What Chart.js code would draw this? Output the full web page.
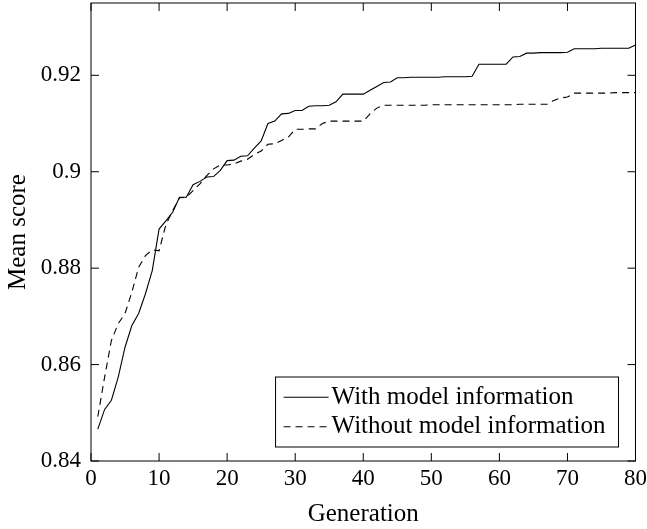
<!DOCTYPE html>
<html>
<head>
<meta charset="utf-8">
<script src="https://cdn.jsdelivr.net/npm/chart.js@4.4.1/dist/chart.umd.min.js"></script>
<style>
  html, body { margin: 0; padding: 0; background: #fff; }
</style>
</head>
<body>
<canvas id="chart" width="647" height="529"></canvas>
<script>
const generations = [
  1, 2, 3, 4, 5, 6, 7, 8, 9, 10, 11, 12, 13, 14, 15, 16, 17, 18, 19, 20,
  21, 22, 23, 24, 25, 26, 27, 28, 29, 30, 31, 32, 33, 34, 35, 36, 37, 38, 39, 40,
  41, 42, 43, 44, 45, 46, 47, 48, 49, 50, 51, 52, 53, 54, 55, 56, 57, 58, 59, 60,
  61, 62, 63, 64, 65, 66, 67, 68, 69, 70, 71, 72, 73, 74, 75, 76, 77, 78, 79, 80
]

const withModel = [
  0.8466, 0.8507, 0.8526, 0.8574, 0.8636, 0.8681, 0.8706, 0.8747, 0.8795, 0.8881,
  0.8898, 0.8916, 0.8947, 0.8947, 0.8973, 0.8980, 0.8989, 0.8990, 0.9003, 0.9023,
  0.9024, 0.9032, 0.9033, 0.9049, 0.9064, 0.9100, 0.9105, 0.9120, 0.9121, 0.9127,
  0.9127, 0.9136, 0.9137, 0.9137, 0.9138, 0.9145, 0.9161, 0.9161, 0.9161, 0.9161,
  0.9169, 0.9177, 0.9185, 0.9186, 0.9195, 0.9195, 0.9196, 0.9196, 0.9196, 0.9196,
  0.9196, 0.9197, 0.9197, 0.9197, 0.9197, 0.9198, 0.9223, 0.9223, 0.9223, 0.9223,
  0.9223, 0.9238, 0.9239, 0.9246, 0.9246, 0.9247, 0.9247, 0.9247, 0.9247, 0.9248,
  0.9255, 0.9255, 0.9255, 0.9255, 0.9256, 0.9256, 0.9256, 0.9256, 0.9256, 0.9263
]

const withoutModel = [
  0.8492, 0.8574, 0.8650, 0.8685, 0.8706, 0.8750, 0.8802, 0.8826, 0.8838, 0.8836,
  0.8890, 0.8919, 0.8946, 0.8947, 0.8961, 0.8975, 0.8992, 0.9006, 0.9014, 0.9014,
  0.9016, 0.9022, 0.9026, 0.9036, 0.9043, 0.9057, 0.9058, 0.9065, 0.9072, 0.9088,
  0.9088, 0.9089, 0.9089, 0.9100, 0.9105, 0.9105, 0.9105, 0.9105, 0.9105, 0.9105,
  0.9120, 0.9132, 0.9138, 0.9138, 0.9138, 0.9138, 0.9138, 0.9138, 0.9138, 0.9139,
  0.9139, 0.9139, 0.9139, 0.9139, 0.9139, 0.9139, 0.9139, 0.9139, 0.9139, 0.9139,
  0.9139, 0.9139, 0.9140, 0.9140, 0.9140, 0.9140, 0.9140, 0.9148, 0.9153, 0.9155,
  0.9163, 0.9163, 0.9163, 0.9163, 0.9163, 0.9163, 0.9164, 0.9164, 0.9164, 0.9164
]

const seriesLabels = ['With model information', 'Without model information']
const xTicks = [0, 10, 20, 30, 40, 50, 60, 70, 80]
const yTicks = [0.84, 0.86, 0.88, 0.9, 0.92]
const yTickLabels = ['0.84', '0.86', '0.88', '0.9', '0.92']

const FONT = '"Liberation Serif", "Times New Roman", serif'
Chart.defaults.font.family = FONT
Chart.defaults.font.size = 23
Chart.defaults.color = '#000'

// pgfplots-style frame with inward ticks on all four sides
const framePlugin = {
  id: 'frame',
  afterDatasetsDraw(chart) {
    const { ctx, chartArea: a, scales: { x, y } } = chart
    const len = 8
    ctx.save()
    ctx.strokeStyle = '#000'
    ctx.lineWidth = 1
    ctx.beginPath()
    x.ticks.forEach(t => {
      const px = x.getPixelForValue(t.value)
      ctx.moveTo(px, a.bottom); ctx.lineTo(px, a.bottom - len)
      ctx.moveTo(px, a.top); ctx.lineTo(px, a.top + len)
    })
    y.ticks.forEach(t => {
      const py = y.getPixelForValue(t.value)
      ctx.moveTo(a.left, py); ctx.lineTo(a.left + len, py)
      ctx.moveTo(a.right, py); ctx.lineTo(a.right - len, py)
    })
    ctx.stroke()
    ctx.strokeRect(a.left, a.top, a.right - a.left, a.bottom - a.top)
    ctx.restore()
  }
}

// boxed legend sitting in the lower right corner of the plot
const boxLegend = {
  id: 'boxLegend',
  afterDraw(chart) {
    const { ctx, chartArea: a } = chart
    const sets = chart.data.datasets
    const sample = 45, gap = 3, padL = 8, padR = 13, padY = 5.5, rowH = 29.5
    ctx.save()
    ctx.font = '25px ' + FONT
    const textW = Math.max(...sets.map(d => ctx.measureText(d.label).width))
    const w = padL + sample + gap + textW + padR
    const h = padY * 2 + rowH * sets.length
    const bx = a.right - 17 - w
    const by = a.bottom - 14 - h
    ctx.fillStyle = '#fff'
    ctx.fillRect(bx, by, w, h)
    ctx.strokeStyle = '#000'
    ctx.lineWidth = 1
    ctx.strokeRect(bx, by, w, h)
    sets.forEach((d, i) => {
      const cy = by + padY + rowH * (i + 0.5)
      ctx.beginPath()
      ctx.setLineDash(d.borderDash || [])
      ctx.lineWidth = d.borderWidth
      ctx.moveTo(bx + padL, cy)
      ctx.lineTo(bx + padL + sample, cy)
      ctx.stroke()
      ctx.setLineDash([])
      ctx.fillStyle = '#000'
      ctx.textAlign = 'left'
      ctx.textBaseline = 'middle'
      ctx.fillText(d.label, bx + padL + sample + gap, cy)
    })
    ctx.restore()
  }
}

const toPoints = values => values.map((v, i) => ({ x: generations[i], y: v }))

new Chart(document.getElementById('chart').getContext('2d'), {
  type: 'line',
  data: {
    datasets: [
      {
        label: seriesLabels[0],
        data: toPoints(withModel),
        borderColor: '#000',
        borderWidth: 1.1,
        pointRadius: 0,
        tension: 0,
        fill: false
      },
      {
        label: seriesLabels[1],
        data: toPoints(withoutModel),
        borderColor: '#000',
        borderWidth: 1.1,
        borderDash: [7, 5],
        pointRadius: 0,
        tension: 0,
        fill: false
      }
    ]
  },
  options: {
    responsive: false,
    animation: false,
    layout: { padding: { top: 3, right: 11.5, left: 0, bottom: 0 } },
    plugins: {
      legend: { display: false },
      tooltip: { enabled: false }
    },
    scales: {
      x: {
        type: 'linear',
        min: 0,
        max: 80,
        afterBuildTicks: scale => { scale.ticks = xTicks.map(v => ({ value: v })) },
        afterFit: scale => {
          scale.height = 68
          scale.paddingLeft = 0
          scale.paddingRight = 0
        },
        grid: { display: false, drawTicks: false },
        border: { display: false },
        ticks: { padding: 4, maxRotation: 0, font: { size: 23 } },
        title: {
          display: true,
          text: 'Generation',
          font: { size: 25 },
          padding: { top: 0, bottom: 0 }
        }
      },
      y: {
        type: 'linear',
        min: 0.84,
        max: 0.935,
        afterBuildTicks: scale => { scale.ticks = yTicks.map(v => ({ value: v })) },
        afterFit: scale => {
          scale.width = 91
          scale.paddingTop = 0
          scale.paddingBottom = 0
        },
        grid: { display: false, drawTicks: false },
        border: { display: false },
        ticks: {
          padding: 10,
          font: { size: 23 },
          callback: (value) => {
            const i = yTicks.findIndex(t => Math.abs(t - value) < 1e-9)
            return i >= 0 ? yTickLabels[i] : ''
          }
        },
        title: {
          display: true,
          text: 'Mean score',
          font: { size: 25 },
          padding: { top: 3, bottom: 0 }
        }
      }
    }
  },
  plugins: [framePlugin, boxLegend]
})
</script>
</body>
</html>
